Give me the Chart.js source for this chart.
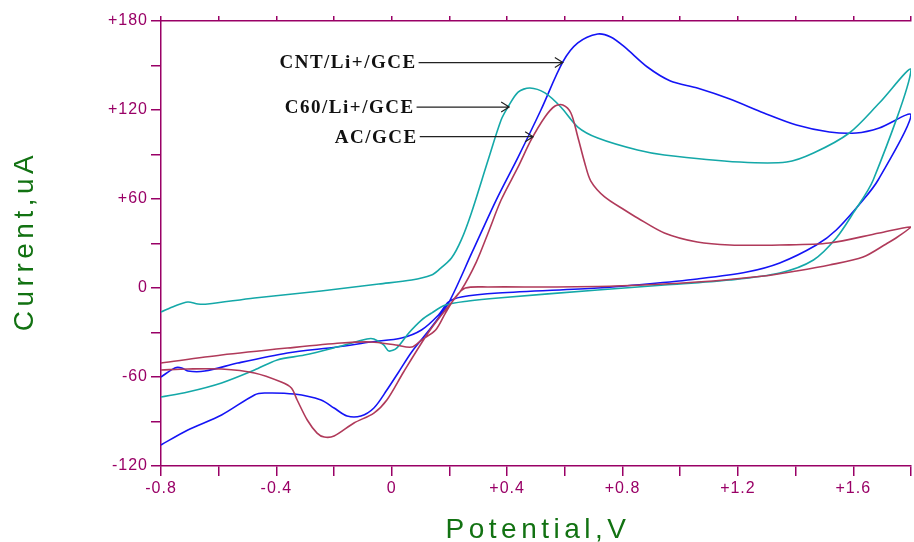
<!DOCTYPE html>
<html>
<head>
<meta charset="utf-8">
<title>CV</title>
<script src="https://cdn.jsdelivr.net/npm/chart.js@4.4.1/dist/chart.umd.min.js"></script>
<style>
  html, body { margin: 0; padding: 0; background: #fff; }
  #wrap { width: 914px; height: 542px; }
</style>
</head>
<body>
<div id="wrap"><canvas id="cv"></canvas></div>
<script>
// potential (V) / current (uA), forward scan then reverse scan
const cntV = [-0.8, -0.707, -0.59, -0.476, -0.441, -0.338, -0.245, -0.2, -0.155, -0.107, -0.062, -0.017, 0.024, 0.069, 0.138, 0.197, 0.279, 0.362, 0.438, 0.517, 0.593, 0.645, 0.714, 0.759, 0.807, 0.886, 0.966, 1.059, 1.172, 1.29, 1.403, 1.517, 1.61, 1.69, 1.8,
  1.686, 1.634, 1.541, 1.472, 1.345, 1.231, 1.059, 0.886, 0.714, 0.369, 0.241, 0.197, 0.162, 0.103, 0.034, -0.072, -0.19, -0.362, -0.534, -0.648, -0.707, -0.728, -0.752, -0.8];
const cntI = [-105.8, -95.7, -85.6, -72.1, -70.8, -71.5, -75.5, -80.9, -86.3, -86.3, -80.9, -68.8, -56.6, -43.1, -26.3, -10.1, 24.3, 59.3, 88.3, 120.0, 152.4, 165.2, 171.2, 169.2, 162.5, 149.0, 139.6, 134.8, 127.4, 118.0, 109.9, 105.2, 104.5, 107.9, 116.6,
  72.8, 59.3, 39.1, 29.0, 16.9, 10.8, 6.1, 2.7, 0, -3.4, -6.1, -9.4, -18.2, -28.3, -33.7, -36.4, -39.8, -43.8, -50.6, -56.0, -56.0, -53.9, -53.9, -60.0];

const c60V = [-0.8, -0.752, -0.707, -0.672, -0.638, -0.476, -0.245, -0.045, 0.069, 0.138, 0.162, 0.207, 0.241, 0.276, 0.334, 0.379, 0.403, 0.438, 0.479, 0.531, 0.586, 0.645, 0.714, 0.852, 0.945, 1.207, 1.369, 1.462, 1.586, 1.69, 1.8,
  1.669, 1.6, 1.541, 1.462, 1.345, 1.172, 0.945, 0.714, 0.369, 0.266, 0.186, 0.138, 0.103, 0.059, 0.017, -0.01, -0.028, -0.062, -0.086, -0.19, -0.303, -0.397, -0.476, -0.59, -0.707, -0.8];
const c60I = [-16.2, -12.1, -9.4, -10.8, -10.8, -6.7, -2.0, 2.7, 5.4, 8.8, 12.1, 20.2, 32.4, 50.6, 86.3, 113.3, 122.0, 132.1, 134.8, 131.5, 122.0, 108.5, 101.1, 93.0, 89.7, 84.9, 84.9, 91.0, 104.5, 124.7, 147.0,
  72.8, 50.6, 33.7, 18.9, 10.1, 5.4, 2.0, -1.3, -6.7, -8.8, -11.5, -16.9, -21.6, -30.3, -40.5, -42.5, -38.4, -34.4, -34.4, -39.8, -45.2, -48.5, -55.3, -64.0, -70.1, -73.5];

const acV = [-0.8, -0.707, -0.59, -0.476, -0.383, -0.348, -0.328, -0.293, -0.259, -0.234, -0.2, -0.131, -0.062, -0.017, 0.041, 0.128, 0.186, 0.241, 0.293, 0.334, 0.379, 0.438, 0.483, 0.531, 0.566, 0.593, 0.621, 0.645, 0.669, 0.69, 0.738, 0.807, 0.852, 0.945, 1.059, 1.172, 1.345, 1.517, 1.69, 1.8,
  1.748, 1.714, 1.634, 1.517, 1.403, 1.29, 1.059, 0.772, 0.566, 0.334, 0.255, 0.221, 0.186, 0.152, 0.103, 0.069, 0.014, -0.072, -0.176, -0.362, -0.59, -0.8];
const acI = [-55.3, -54.6, -54.6, -57.3, -63.4, -67.4, -75.5, -89.0, -97.8, -100.5, -99.8, -91.0, -84.3, -75.5, -56.6, -29.7, -14.8, -1.3, 17.5, 37.1, 59.3, 81.6, 99.8, 115.3, 122.7, 123.4, 118.0, 101.8, 84.3, 72.1, 61.4, 52.6, 47.2, 37.1, 31.0, 29.0, 29.0, 30.3, 37.1, 41.1,
  33.7, 29.7, 20.9, 15.5, 11.5, 8.1, 4.0, 1.3, 0.7, 0.7, 0, -6.1, -16.9, -28.3, -35.1, -39.8, -38.4, -36.4, -37.1, -40.5, -45.2, -50.6];

const xTickValues = [-0.8, -0.4, 0, 0.4, 0.8, 1.2, 1.6];
const xTickLabels = ['-0.8', '-0.4', '0', '+0.4', '+0.8', '+1.2', '+1.6'];
const yTickValues = [-120, -60, 0, 60, 120, 180];
const yTickLabels = ['-120', '-60', '0', '+60', '+120', '+180'];

// arrow labels: text, arrow start/end potential, current level
const notes = [
  { text: 'CNT/Li+/GCE', from: 0.093, to: 0.593, at: 152 },
  { text: 'C60/Li+/GCE', from: 0.086, to: 0.407, at: 122 },
  { text: 'AC/GCE', from: 0.097, to: 0.490, at: 102 }
];

const axisColor = '#990066';
const titleColor = '#127212';
const tickFont = { family: 'Arial, "Liberation Sans", sans-serif', size: 16 };

function pts(xs, ys) {
  return xs.map((x, i) => ({ x: x, y: ys[i] }));
}
function pickLabel(vals, labels, v) {
  const i = vals.findIndex(t => Math.abs(t - v) < 1e-6);
  return i >= 0 ? labels[i] : '';
}

const overlay = {
  id: 'overlay',
  beforeDraw(chart) {
    chart.ctx.letterSpacing = '1px';
  },
  afterDraw(chart) {
    const ctx = chart.ctx;
    const area = chart.chartArea;
    const xs = chart.scales.x, ys = chart.scales.y;

    // axis titles
    ctx.save();
    ctx.fillStyle = titleColor;
    ctx.font = '28px Arial, "Liberation Sans", sans-serif';
    ctx.letterSpacing = '4.5px';
    ctx.textAlign = 'center';
    ctx.textBaseline = 'alphabetic';
    ctx.fillText('Potential,V', (area.left + area.right) / 2 + 2, 538);
    ctx.translate(33, 241);
    ctx.rotate(-Math.PI / 2);
    ctx.fillText('Current,uA', 0, 0);
    ctx.restore();

    // arrows with labels
    ctx.save();
    ctx.letterSpacing = '1.5px';
    ctx.font = 'bold 19px "Liberation Serif", "Times New Roman", serif';
    ctx.fillStyle = '#111';
    ctx.strokeStyle = '#222';
    ctx.lineWidth = 1.2;
    ctx.textAlign = 'right';
    ctx.textBaseline = 'middle';
    notes.forEach(n => {
      const x0 = xs.getPixelForValue(n.from);
      const x1 = xs.getPixelForValue(n.to);
      const y = ys.getPixelForValue(n.at);
      ctx.fillText(n.text, x0 - 2, y + 1);
      ctx.beginPath();
      ctx.moveTo(x0, y);
      ctx.lineTo(x1, y);
      ctx.moveTo(x1 - 8, y - 5);
      ctx.lineTo(x1, y);
      ctx.lineTo(x1 - 8, y + 5);
      ctx.stroke();
    });
    ctx.restore();
  }
};

function series(label, xs, ys, color) {
  return {
    label: label,
    data: pts(xs, ys),
    showLine: true,
    borderColor: color,
    backgroundColor: color,
    borderWidth: 1.6,
    pointRadius: 0,
    tension: 0.3,
    fill: false
  };
}

new Chart(document.getElementById('cv'), {
  type: 'scatter',
  data: {
    datasets: [
      series('AC/GCE', acV, acI, '#b03a5a'),
      series('C60/Li+/GCE', c60V, c60I, '#14a8a8'),
      series('CNT/Li+/GCE', cntV, cntI, '#1414f5')
    ]
  },
  options: {
    responsive: true,
    maintainAspectRatio: false,
    animation: false,
    devicePixelRatio: 1,
    layout: { padding: 0 },
    plugins: {
      legend: { display: false },
      tooltip: { enabled: false }
    },
    scales: {
      x: {
        type: 'linear',
        position: 'bottom',
        min: -0.8,
        max: 1.8,
        afterFit: s => { s.height = 76; },
        border: { color: axisColor, width: 1.5 },
        grid: { drawOnChartArea: false, tickLength: 10, color: axisColor, lineWidth: 1.5 },
        ticks: {
          stepSize: 0.2,
          autoSkip: false,
          maxRotation: 0,
          padding: 3,
          color: axisColor,
          font: tickFont,
          callback: v => pickLabel(xTickValues, xTickLabels, v)
        }
      },
      x2: {
        type: 'linear',
        position: 'top',
        min: -0.8,
        max: 1.8,
        afterFit: s => { s.height = 21; },
        border: { color: axisColor, width: 1.5 },
        grid: { drawOnChartArea: false, tickLength: 5, color: axisColor, lineWidth: 1.5 },
        ticks: { stepSize: 0.2, autoSkip: false, display: false }
      },
      y: {
        type: 'linear',
        min: -120,
        max: 180,
        afterFit: s => { s.width = 161; },
        border: { color: axisColor, width: 1.5 },
        grid: { drawOnChartArea: false, tickLength: 10, color: axisColor, lineWidth: 1.5 },
        ticks: {
          stepSize: 30,
          autoSkip: false,
          padding: 3,
          color: axisColor,
          font: tickFont,
          callback: v => pickLabel(yTickValues, yTickLabels, v)
        }
      }
    }
  },
  plugins: [overlay]
});
</script>
</body>
</html>
